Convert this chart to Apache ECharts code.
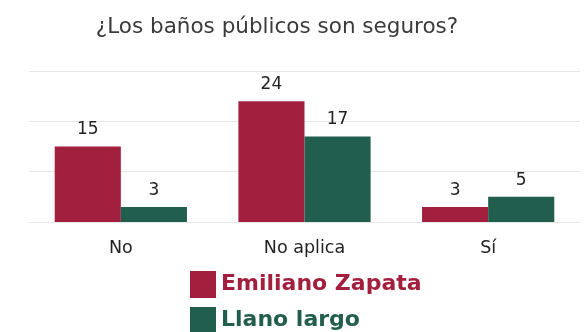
<!DOCTYPE html>
<html><head><meta charset="utf-8">
<script src="https://cdn.jsdelivr.net/npm/echarts@6/dist/echarts.min.js"></script>
<style>html,body{margin:0;padding:0;background:#fff}#c{width:584px;height:332px}</style>
</head><body><div id="c"></div>
<script>
const categories = ['No', 'No aplica', 'Sí'];
const emilianoZapata = [15, 24, 3];
const llanoLargo = [3, 17, 5];
const seriesNames = ['Emiliano Zapata', 'Llano largo'];
const colors = ['#A31F3E', '#225E4D'];

const FONT = 'DejaVu Sans';
const chart = echarts.init(document.getElementById('c'));
const label = {show: true, position: 'top', distance: 8, color: '#222', fontSize: 17, fontFamily: FONT};
chart.setOption({
  animation: false,
  title: {text: '¿Los baños públicos son seguros?', left: 272, textAlign: 'center', top: 11,
    textStyle: {fontFamily: FONT, fontSize: 21.5, fontWeight: 'normal', color: '#3a3a3a'}},
  legend: {orient: 'vertical', left: 190, top: 271, height: 120, padding: 0, itemWidth: 26, itemHeight: 27, itemGap: 9,
    icon: 'rect',
    data: [
      {name: seriesNames[0], textStyle: {color: colors[0]}},
      {name: seriesNames[1], textStyle: {color: colors[1]}}
    ],
    textStyle: {fontFamily: FONT, fontSize: 22, fontWeight: 'bold'}},
  grid: {left: 29, right: 4, top: 71, bottom: 110},
  xAxis: {type: 'category', data: categories,
    axisLine: {show: true, lineStyle: {color: '#e6e6e6'}}, axisTick: {show: false},
    axisLabel: {color: '#222', fontSize: 17.5, fontFamily: FONT, margin: 17}},
  yAxis: {type: 'value', min: 0, max: 30, interval: 10,
    axisLabel: {show: false}, axisLine: {show: false}, axisTick: {show: false},
    splitLine: {lineStyle: {color: '#e6e6e6'}}},
  series: [
    {name: seriesNames[0], type: 'bar', data: emilianoZapata, itemStyle: {color: colors[0]},
      barGap: '0%', barCategoryGap: '28%', label},
    {name: seriesNames[1], type: 'bar', data: llanoLargo, itemStyle: {color: colors[1]},
      barGap: '0%', barCategoryGap: '28%', label}
  ]
});
</script></body></html>
